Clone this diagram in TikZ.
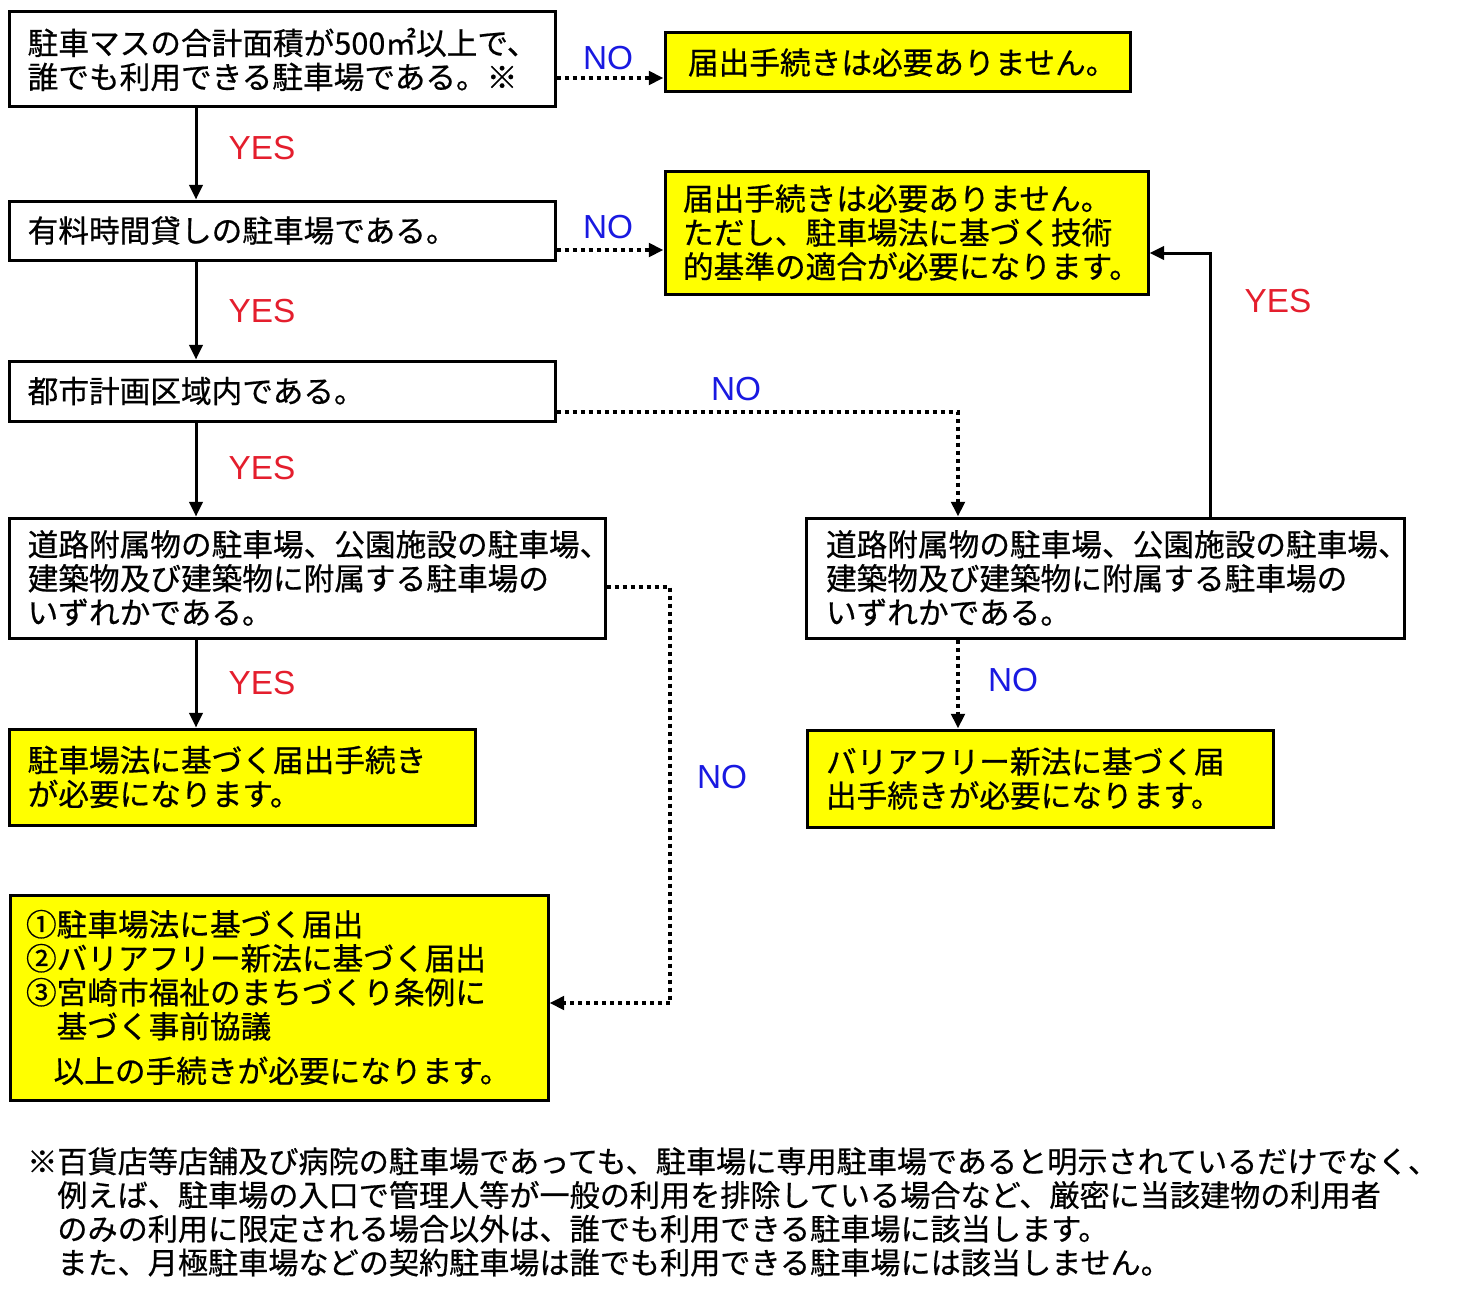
\documentclass[tikz,border=0pt]{standalone}
\usepackage{fontspec}
\setmainfont[FakeBold=0.6,AutoFakeBold=0]{Noto Sans CJK JP}
\newfontfamily\labfont{Liberation Sans}
\usetikzlibrary{arrows.meta}
\definecolor{yesred}{RGB}{228,30,45}
\definecolor{noblue}{RGB}{25,25,225}
\definecolor{boxyellow}{RGB}{255,255,0}
\tikzset{
  box/.style={draw=black, line width=2.25pt, rectangle, inner xsep=14pt, inner ysep=0pt,
    align=left, font=\fontsize{23}{25.5}\selectfont, anchor=center},
  ybox/.style={box, fill=boxyellow},
  yeslab/.style={text=yesred, font=\labfont\fontsize{25}{25}\selectfont, inner sep=0pt},
  nolab/.style={text=noblue, font=\labfont\fontsize{25}{25}\selectfont, inner sep=0pt},
  flow/.style={line width=2.25pt, -{Triangle[length=11pt,width=10pt]}},
  dflow/.style={line width=3pt, dash pattern=on 3pt off 3pt, -{Triangle[length=11pt,width=10pt]}},
}
\begin{document}
\begin{tikzpicture}[x=0.75pt,y=-0.75pt]
\useasboundingbox (0,0) rectangle (1460,1306);

% boxes
\node[box, minimum width=409.5pt, minimum height=71.25pt, text width=381.5pt] (A) at (282,59.5)
  {駐車マスの合計面積が500㎡以上で、\\誰でも利用できる駐車場である。※};
\node[ybox, minimum width=348.75pt, minimum height=44.25pt, inner xsep=17.25pt, text width=314.25pt] (B) at (897.5,62.5)
  {届出手続きは必要ありません。};
\node[box, minimum width=409.5pt, minimum height=44.25pt, text width=381.5pt] (C) at (282,230.5)
  {有料時間貸しの駐車場である。};
\node[ybox, minimum width=362.25pt, minimum height=92.25pt, inner xsep=13.5pt, text width=335.25pt] (D) at (906.5,232.5)
  {届出手続きは必要ありません。\\ただし、駐車場法に基づく技術\\的基準の適合が必要になります。};
\node[box, minimum width=409.5pt, minimum height=45pt, text width=381.5pt] (E) at (282,391)
  {都市計画区域内である。};
\node[box, minimum width=447pt, minimum height=90pt, text width=419pt] (F) at (307,578)
  {道路附属物の駐車場、公園施設の駐車場、\\建築物及び建築物に附属する駐車場の\\いずれかである。};
\node[box, minimum width=448.5pt, minimum height=90pt, inner xsep=15pt, text width=418.5pt] (G) at (1105,578)
  {道路附属物の駐車場、公園施設の駐車場、\\建築物及び建築物に附属する駐車場の\\いずれかである。};
\node[ybox, minimum width=349.5pt, minimum height=72pt, text width=321.5pt] (H) at (242,777)
  {駐車場法に基づく届出手続き\\が必要になります。};
\node[ybox, minimum width=349.5pt, minimum height=72.75pt, inner xsep=14.25pt, text width=321pt] (I) at (1040,778.5)
  {バリアフリー新法に基づく届\\出手続きが必要になります。};
\node[ybox, minimum width=403.5pt, minimum height=153.75pt, inner xsep=12pt, text width=379.5pt] (J) at (279,997.5)
  {①駐車場法に基づく届出\\②バリアフリー新法に基づく届出\\③宮崎市福祉のまちづくり条例に\\\hspace*{1em}基づく事前協議\\[8pt]\hspace*{0.9em}以上の手続きが必要になります。};

% footnote
\node[anchor=north west, inner sep=0pt, align=left, font=\fontsize{22.6}{25.3}\selectfont] (note) at (27,1147)
  {※百貨店等店舗及び病院の駐車場であっても、駐車場に専用駐車場であると明示されているだけでなく、\\
   \hspace*{1em}例えば、駐車場の入口で管理人等が一般の利用を排除している場合など、厳密に当該建物の利用者\\
   \hspace*{1em}のみの利用に限定される場合以外は、誰でも利用できる駐車場に該当します。\\
   \hspace*{1em}また、月極駐車場などの契約駐車場は誰でも利用できる駐車場には該当しません。};

% helper coordinates
\coordinate (col) at (196,0);
\coordinate (r1) at (0,78);
\coordinate (r2) at (0,250);
\coordinate (r3) at (0,412);
\coordinate (c3) at (958,0);
\coordinate (r4) at (0,587);
\coordinate (c4) at (670,0);
\coordinate (r5) at (0,1003);
\coordinate (c6) at (1210,0);
\coordinate (r6) at (0,253);

% YES connectors
\draw[flow] (A.south -| col) -- (C.north -| col);
\draw[flow] (C.south -| col) -- (E.north -| col);
\draw[flow] (E.south -| col) -- (F.north -| col);
\draw[flow] (F.south -| col) -- (H.north -| col);
\draw[flow] (G.north -| c6) -- (c6 |- r6) -- (D.east |- r6);

% NO connectors
\draw[dflow] (A.east |- r1) -- (B.west |- r1);
\draw[dflow] (C.east |- r2) -- (D.west |- r2);
\draw[dflow] (E.east |- r3) -- (c3 |- r3) -- (G.north -| c3);
\draw[dflow] (F.east |- r4) -- (c4 |- r4) -- (c4 |- r5) -- (J.east |- r5);
\draw[dflow] (G.south -| c3) -- (I.north -| c3);

% labels
\node[yeslab] (y1) at (262,148) {YES};
\node[yeslab] (y2) at (262,311) {YES};
\node[yeslab] (y3) at (262,468) {YES};
\node[yeslab] (y4) at (262,683) {YES};
\node[yeslab] (y5) at (1278,301) {YES};
\node[nolab] (n1) at (608,58) {NO};
\node[nolab] (n2) at (608,227) {NO};
\node[nolab] (n3) at (736,389) {NO};
\node[nolab] (n4) at (722,777) {NO};
\node[nolab] (n5) at (1013,680) {NO};
\end{tikzpicture}
\end{document}
